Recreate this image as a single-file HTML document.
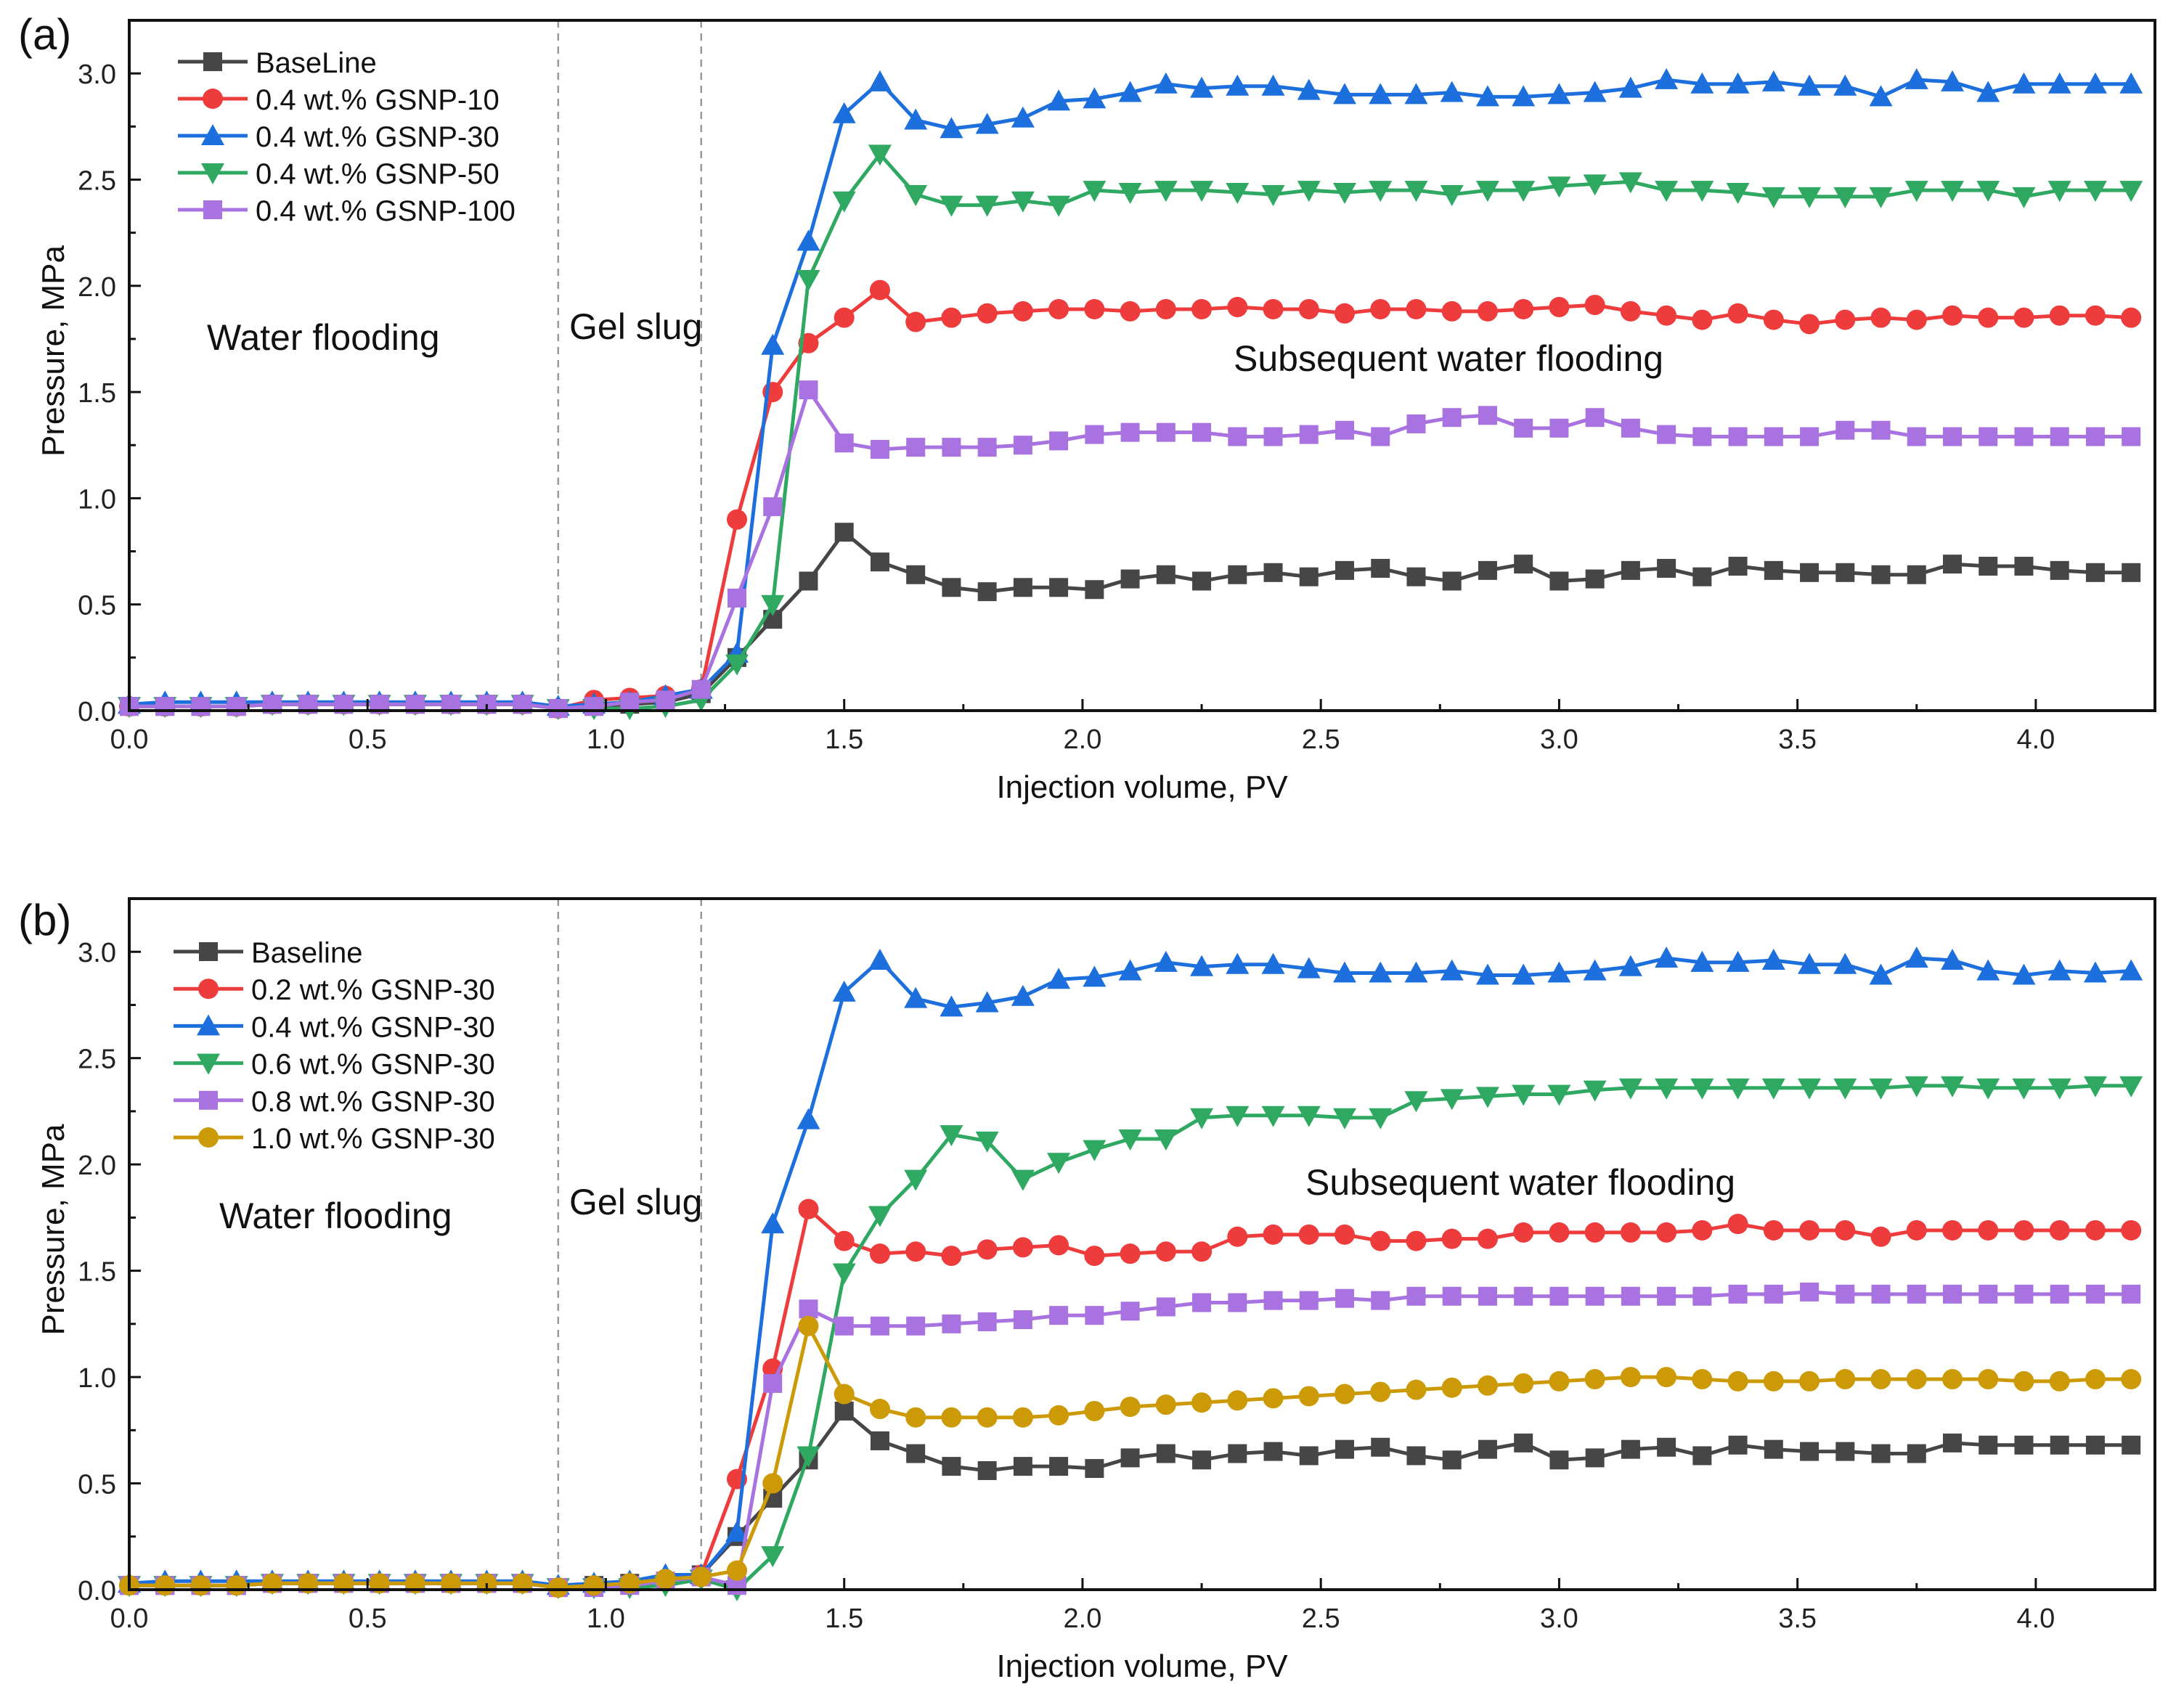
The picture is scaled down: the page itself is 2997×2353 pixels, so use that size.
<!DOCTYPE html>
<html>
<head>
<meta charset="utf-8">
<style>
  html,body{margin:0;padding:0;background:#fff;}
  svg{display:block;}
  text{font-family:"Liberation Sans", Arial, sans-serif;}
</style>
</head>
<body>
<svg id="chart" width="2997" height="2353" viewBox="0 0 2997 2353" xmlns="http://www.w3.org/2000/svg"></svg>
<script>
// ---------- data ----------
const xValues = Array.from({length:57},(_, i)=>+(i*0.075).toFixed(3));
const xTickLabels = ["0.0","0.5","1.0","1.5","2.0","2.5","3.0","3.5","4.0"];
const yTickLabels = ["0.0","0.5","1.0","1.5","2.0","2.5","3.0"];
const early = [0.02,0.02,0.02,0.02,0.03,0.03,0.03,0.03,0.03,0.03,0.03,0.03,0.01];

const aBaseline = early.concat([0.02,0.03,0.04,0.08,0.25,0.43,0.61,0.84,0.70,0.64,0.58,0.56,0.58,0.58,0.57,0.62,0.64,0.61,0.64,0.65,0.63,0.66,0.67,0.63,0.61,0.66,0.69,0.61,0.62,0.66,0.67,0.63,0.68,0.66,0.65,0.65,0.64,0.64,0.69,0.68,0.68,0.66,0.65,0.65]);
const aGsnp10 = early.concat([0.05,0.06,0.07,0.10,0.90,1.50,1.73,1.85,1.98,1.83,1.85,1.87,1.88,1.89,1.89,1.88,1.89,1.89,1.90,1.89,1.89,1.87,1.89,1.89,1.88,1.88,1.89,1.90,1.91,1.88,1.86,1.84,1.87,1.84,1.82,1.84,1.85,1.84,1.86,1.85,1.85,1.86,1.86,1.85]);
const aGsnp30 = [0.03,0.04,0.04,0.04,0.04,0.04,0.04,0.04,0.04,0.04,0.04,0.04,0.02].concat([0.03,0.04,0.07,0.10,0.27,1.72,2.21,2.81,2.96,2.78,2.74,2.76,2.79,2.87,2.88,2.91,2.95,2.93,2.94,2.94,2.92,2.90,2.90,2.90,2.91,2.89,2.89,2.90,2.91,2.93,2.97,2.95,2.95,2.96,2.94,2.94,2.89,2.97,2.96,2.91,2.95,2.95,2.95,2.95]);
const aGsnp50 = early.concat([0.01,0.01,0.02,0.05,0.22,0.50,2.03,2.40,2.62,2.43,2.38,2.38,2.40,2.38,2.45,2.44,2.45,2.45,2.44,2.43,2.45,2.44,2.45,2.45,2.43,2.45,2.45,2.47,2.48,2.49,2.45,2.45,2.44,2.42,2.42,2.42,2.42,2.45,2.45,2.45,2.42,2.45,2.45,2.45]);
const aGsnp100 = early.concat([0.02,0.04,0.05,0.10,0.53,0.96,1.51,1.26,1.23,1.24,1.24,1.24,1.25,1.27,1.30,1.31,1.31,1.31,1.29,1.29,1.30,1.32,1.29,1.35,1.38,1.39,1.33,1.33,1.38,1.33,1.30,1.29,1.29,1.29,1.29,1.32,1.32,1.29,1.29,1.29,1.29,1.29,1.29,1.29]);

const bBaseline = early.concat([0.02,0.03,0.04,0.07,0.25,0.43,0.61,0.84,0.70,0.64,0.58,0.56,0.58,0.58,0.57,0.62,0.64,0.61,0.64,0.65,0.63,0.66,0.67,0.63,0.61,0.66,0.69,0.61,0.62,0.66,0.67,0.63,0.68,0.66,0.65,0.65,0.64,0.64,0.69,0.68,0.68,0.68,0.68,0.68]);
const b02 = early.concat([0.02,0.03,0.05,0.07,0.52,1.04,1.79,1.64,1.58,1.59,1.57,1.60,1.61,1.62,1.57,1.58,1.59,1.59,1.66,1.67,1.67,1.67,1.64,1.64,1.65,1.65,1.68,1.68,1.68,1.68,1.68,1.69,1.72,1.69,1.69,1.69,1.66,1.69,1.69,1.69,1.69,1.69,1.69,1.69]);
const b04 = [0.03,0.04,0.04,0.04,0.04,0.04,0.04,0.04,0.04,0.04,0.04,0.04,0.02].concat([0.03,0.04,0.07,0.07,0.27,1.72,2.21,2.81,2.96,2.78,2.74,2.76,2.79,2.87,2.88,2.91,2.95,2.93,2.94,2.94,2.92,2.90,2.90,2.90,2.91,2.89,2.89,2.90,2.91,2.93,2.97,2.95,2.95,2.96,2.94,2.94,2.89,2.97,2.96,2.91,2.89,2.91,2.90,2.91]);
const b06 = early.concat([0.01,0.01,0.02,0.05,0.00,0.16,0.63,1.49,1.76,1.93,2.14,2.11,1.93,2.01,2.07,2.12,2.12,2.22,2.23,2.23,2.23,2.22,2.22,2.30,2.31,2.32,2.33,2.33,2.35,2.36,2.36,2.36,2.36,2.36,2.36,2.36,2.36,2.37,2.37,2.36,2.36,2.36,2.37,2.37]);
const b08 = early.concat([0.01,0.02,0.04,0.06,0.02,0.97,1.32,1.24,1.24,1.24,1.25,1.26,1.27,1.29,1.29,1.31,1.33,1.35,1.35,1.36,1.36,1.37,1.36,1.38,1.38,1.38,1.38,1.38,1.38,1.38,1.38,1.38,1.39,1.39,1.40,1.39,1.39,1.39,1.39,1.39,1.39,1.39,1.39,1.39]);
const b10 = early.concat([0.02,0.03,0.05,0.06,0.09,0.50,1.24,0.92,0.85,0.81,0.81,0.81,0.81,0.82,0.84,0.86,0.87,0.88,0.89,0.90,0.91,0.92,0.93,0.94,0.95,0.96,0.97,0.98,0.99,1.00,1.00,0.99,0.98,0.98,0.98,0.99,0.99,0.99,0.99,0.99,0.98,0.98,0.99,0.99]);

// ---------- layout ----------
const NS="http://www.w3.org/2000/svg";
const svg=document.getElementById('chart');
const X0=178, X1=2968, XMAX=4.25, YMAX=3.25;
const COL={black:'#464646',red:'#ee3b3b',blue:'#1c6fdc',green:'#2fa862',purple:'#a872e0',gold:'#cc9a06'};

function mk(tag, attrs, parent){
  const e=document.createElementNS(NS,tag);
  for(const k in attrs) e.setAttribute(k,attrs[k]);
  (parent||svg).appendChild(e);
  return e;
}
function marker(g, shape, cx, cy, color){
  const s=13;
  let m;
  if(shape==='square') m=mk('rect',{x:cx-s,y:cy-s,width:2*s,height:2*s,fill:color},g);
  else if(shape==='circle') m=mk('circle',{cx:cx,cy:cy,r:s+1,fill:color},g);
  else if(shape==='up') m=mk('polygon',{points:`${cx},${cy-s-3} ${cx-s-3},${cy+s} ${cx+s+3},${cy+s}`,fill:color},g);
  else m=mk('polygon',{points:`${cx},${cy+s+3} ${cx-s-3},${cy-s} ${cx+s+3},${cy-s}`,fill:color},g);
  return m;
}

function panel(cfg){
  const T=cfg.top, B=cfg.bottom;
  const sx=v=>X0+(X1-X0)*v/XMAX;
  const sy=v=>B-(B-T)*v/YMAX;
  const g=mk('g',{});
  
  

  [0.9,1.2].forEach((v,i)=>{
    const l=mk('line',{x1:sx(v),x2:sx(v),y1:T,y2:B,stroke:'#999',"stroke-width":2.5,"stroke-dasharray":"10,8"},g);
    
    
  });

  cfg.series.forEach(s=>{
    const sg=mk('g',{},g);
    
    
    const pts=s.data.map((v,i)=>sx(xValues[i])+','+sy(v)).join(' ');
    mk('polyline',{points:pts,fill:'none',stroke:s.color,"stroke-width":5,"stroke-linejoin":"round"},sg);
    s.data.forEach((v,i)=>{
      const m=marker(sg,s.shape,sx(xValues[i]),sy(v),s.color);
      
      
    });
  });

  const fr=mk('rect',{x:X0,y:T,width:X1-X0,height:B-T,fill:'none',stroke:'#111',"stroke-width":4},g);
  
  

  const xa=mk('g',{},g);
  
  
  for(let k=0;k<=16;k++){
    const v=k*0.25, x=sx(v), major=k%2===0;
    mk('line',{x1:x,x2:x,y1:B,y2:B-(major?16:9),stroke:'#111',"stroke-width":3},xa);
  }
  xTickLabels.forEach(t=>{
    const tx=mk('text',{x:sx(parseFloat(t)),y:B+52,"font-size":38,"text-anchor":"middle",fill:'#222'},xa);
    tx.textContent=t;
    
    
  });
  const xt=mk('text',{x:(X0+X1)/2,y:B+120,"font-size":44,"text-anchor":"middle",fill:'#111'},g);
  xt.textContent='Injection volume, PV';
  
  

  const ya=mk('g',{},g);
  
  
  for(let k=0;k<=12;k++){
    const v=k*0.25, y=sy(v), major=k%2===0;
    mk('line',{x1:X0,x2:X0+(major?16:9),y1:y,y2:y,stroke:'#111',"stroke-width":3},ya);
  }
  yTickLabels.forEach(t=>{
    const ty=mk('text',{x:160,y:sy(parseFloat(t))+14,"font-size":38,"text-anchor":"end",fill:'#222'},ya);
    ty.textContent=t;
    
    
  });
  const cy=(T+B)/2 - 20;
  const yt=mk('text',{x:0,y:0,"font-size":44,"text-anchor":"middle",fill:'#111',transform:`translate(88,${cy}) rotate(-90)`},g);
  yt.textContent='Pressure, MPa';
  
  

  const pl=mk('text',{x:25,y:cfg.labelY,"font-size":60,fill:'#111'},g);
  pl.textContent=cfg.label;
  
  

  cfg.annotations.forEach(a=>{
    const at=mk('text',{x:a.x,y:a.y,"font-size":50,fill:'#111'},g);
    at.textContent=a.text;
    
    
  });

  const lg=mk('g',{},g);
  
  
  cfg.series.forEach((s,i)=>{
    const y=cfg.legY+i*cfg.legStep;
    const eg=mk('g',{},lg);
    
    
    mk('line',{x1:cfg.legX,x2:cfg.legX+96,y1:y,y2:y,stroke:s.color,"stroke-width":5},eg);
    marker(eg,s.shape,cfg.legX+48,y,s.color);
    const lt=mk('text',{x:cfg.legX+107,y:y+15,"font-size":40,fill:'#111'},eg);
    lt.textContent=s.label;
  });
}

panel({
  name:'panel-a', top:28, bottom:979, label:'(a)', labelY:68,
  legX:245, legY:85, legStep:51,
  annotations:[
    {text:'Water flooding',x:285,y:482,name:'water-flooding-label'},
    {text:'Gel slug',x:784,y:467,name:'gel-slug-label'},
    {text:'Subsequent water flooding',x:1699,y:511,name:'subsequent-water-flooding-label'}
  ],
  series:[
    {id:'series-baseline',label:'BaseLine',data:aBaseline,color:COL.black,shape:'square'},
    {id:'series-gsnp-10',label:'0.4 wt.% GSNP-10',data:aGsnp10,color:COL.red,shape:'circle'},
    {id:'series-gsnp-30',label:'0.4 wt.% GSNP-30',data:aGsnp30,color:COL.blue,shape:'up'},
    {id:'series-gsnp-50',label:'0.4 wt.% GSNP-50',data:aGsnp50,color:COL.green,shape:'down'},
    {id:'series-gsnp-100',label:'0.4 wt.% GSNP-100',data:aGsnp100,color:COL.purple,shape:'square'}
  ]
});
panel({
  name:'panel-b', top:1238, bottom:2190, label:'(b)', labelY:1288,
  legX:239, legY:1311, legStep:51.2,
  annotations:[
    {text:'Water flooding',x:302,y:1692,name:'water-flooding-label'},
    {text:'Gel slug',x:784,y:1673,name:'gel-slug-label'},
    {text:'Subsequent water flooding',x:1798,y:1646,name:'subsequent-water-flooding-label'}
  ],
  series:[
    {id:'series-baseline',label:'Baseline',data:bBaseline,color:COL.black,shape:'square'},
    {id:'series-0-2-wt',label:'0.2 wt.% GSNP-30',data:b02,color:COL.red,shape:'circle'},
    {id:'series-0-4-wt',label:'0.4 wt.% GSNP-30',data:b04,color:COL.blue,shape:'up'},
    {id:'series-0-6-wt',label:'0.6 wt.% GSNP-30',data:b06,color:COL.green,shape:'down'},
    {id:'series-0-8-wt',label:'0.8 wt.% GSNP-30',data:b08,color:COL.purple,shape:'square'},
    {id:'series-1-0-wt',label:'1.0 wt.% GSNP-30',data:b10,color:COL.gold,shape:'circle'}
  ]
});
</script>
</body>
</html>
